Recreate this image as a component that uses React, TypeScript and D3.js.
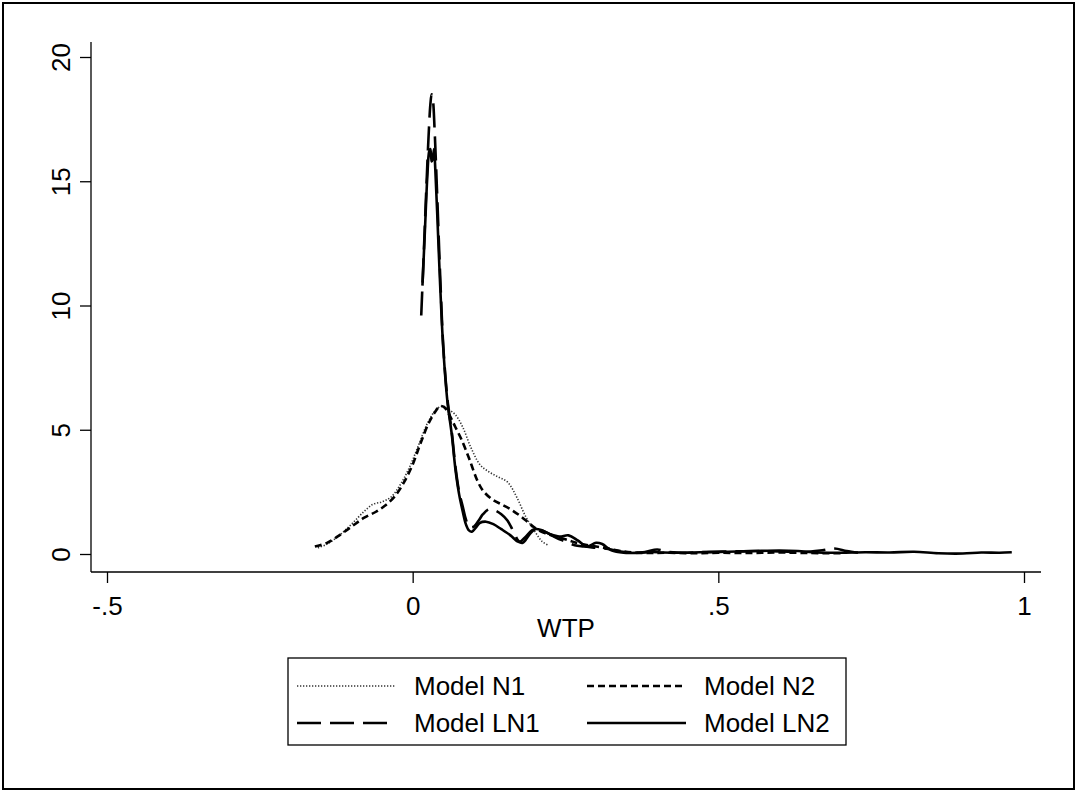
import React, { useEffect, useRef } from "react";
import * as d3 from "d3";

// kernel density of WTP: [wtp, density]
const modelN1: [number, number][] = [
  [-0.155, 0.25], [-0.14, 0.4], [-0.12, 0.75], [-0.1, 1.2], [-0.08, 1.7], [-0.065, 2.0],
  [-0.05, 2.1], [-0.035, 2.3], [-0.02, 2.8], [-0.005, 3.5], [0.01, 4.4], [0.025, 5.3],
  [0.04, 5.85], [0.05, 5.95], [0.06, 5.8], [0.07, 5.6], [0.082, 5.1], [0.095, 4.3],
  [0.11, 3.6], [0.125, 3.3], [0.14, 3.1], [0.155, 2.9], [0.17, 2.3], [0.185, 1.5],
  [0.2, 0.9], [0.212, 0.5], [0.222, 0.35],
];

const modelN2: [number, number][] = [
  [-0.16, 0.3], [-0.14, 0.45], [-0.12, 0.75], [-0.1, 1.1], [-0.08, 1.45], [-0.06, 1.7],
  [-0.045, 1.95], [-0.03, 2.3], [-0.015, 2.85], [0.0, 3.6], [0.012, 4.4], [0.025, 5.2],
  [0.035, 5.65], [0.045, 5.95], [0.052, 5.9], [0.06, 5.6], [0.07, 5.1], [0.08, 4.6],
  [0.093, 3.8], [0.105, 3.0], [0.115, 2.55], [0.13, 2.2], [0.145, 2.0], [0.16, 1.8],
  [0.175, 1.55], [0.19, 1.25], [0.2, 1.05], [0.215, 0.85], [0.235, 0.7], [0.255, 0.55],
  [0.275, 0.4], [0.3, 0.3], [0.32, 0.22], [0.34, 0.12], [0.36, 0.06], [0.39, 0.04],
  [0.42, 0.05], [0.46, 0.03], [0.5, 0.05], [0.55, 0.04], [0.6, 0.06], [0.65, 0.04], [0.7, 0.03],
];

const modelLN1: [number, number][] = [
  [0.014, 9.6], [0.018, 12.0], [0.022, 14.5], [0.026, 16.8], [0.029, 18.1], [0.031, 18.5],
  [0.033, 18.3], [0.036, 17.0], [0.04, 14.5], [0.045, 11.2], [0.05, 8.4], [0.057, 6.2],
  [0.064, 4.9], [0.07, 3.5], [0.076, 2.5], [0.082, 1.9], [0.087, 1.4], [0.092, 1.1],
  [0.1, 1.1], [0.108, 1.35], [0.115, 1.6], [0.125, 1.8], [0.135, 1.75], [0.145, 1.6],
  [0.155, 1.35], [0.165, 0.9], [0.175, 0.5], [0.185, 0.7], [0.195, 0.95], [0.205, 1.0],
  [0.22, 0.85], [0.235, 0.65], [0.25, 0.5], [0.265, 0.35], [0.28, 0.3], [0.3, 0.25],
  [0.32, 0.2], [0.34, 0.1], [0.36, 0.05], [0.38, 0.08], [0.4, 0.18], [0.42, 0.08],
  [0.45, 0.05], [0.48, 0.08], [0.52, 0.1], [0.56, 0.12], [0.6, 0.1], [0.64, 0.08],
  [0.67, 0.15], [0.69, 0.22], [0.71, 0.12], [0.73, 0.05],
];

const modelLN2: [number, number][] = [
  [0.016, 10.8], [0.02, 13.0], [0.024, 15.2], [0.027, 16.2], [0.029, 16.3], [0.031, 15.8],
  [0.033, 15.9], [0.035, 16.3], [0.037, 15.5], [0.04, 13.8], [0.045, 10.8], [0.05, 8.3],
  [0.057, 6.1], [0.064, 4.8], [0.07, 3.4], [0.076, 2.4], [0.082, 1.7], [0.087, 1.2],
  [0.092, 0.95], [0.097, 0.9], [0.103, 1.05], [0.11, 1.25], [0.12, 1.3], [0.132, 1.2],
  [0.145, 1.0], [0.16, 0.75], [0.172, 0.5], [0.18, 0.45], [0.19, 0.75], [0.2, 1.0],
  [0.212, 0.95], [0.225, 0.8], [0.24, 0.7], [0.255, 0.75], [0.27, 0.55], [0.285, 0.3],
  [0.3, 0.45], [0.31, 0.4], [0.325, 0.15], [0.345, 0.05], [0.37, 0.05], [0.39, 0.08],
  [0.41, 0.06], [0.44, 0.05], [0.47, 0.07], [0.5, 0.08], [0.53, 0.1], [0.56, 0.12],
  [0.6, 0.14], [0.63, 0.12], [0.66, 0.06], [0.7, 0.05], [0.74, 0.07], [0.78, 0.06],
  [0.82, 0.09], [0.86, 0.03], [0.9, 0.02], [0.93, 0.06], [0.96, 0.05], [0.98, 0.07],
];

const xTicks = [-0.5, 0, 0.5, 1];
const xTickLabels = ["-.5", "0", ".5", "1"];
const yTicks = [0, 5, 10, 15, 20];

const seriesNames = ["Model N1", "Model N2", "Model LN1", "Model LN2"];
const seriesData = [modelN1, modelN2, modelLN1, modelLN2];
// stata-ish line patterns
const seriesStyle = [
  { dash: "1.3,1.7", width: 1.6, color: "#333" },
  { dash: "7,4", width: 2.6, color: "#000" },
  { dash: "24,9", width: 2.6, color: "#000" },
  { dash: "none", width: 2.6, color: "#000" },
];

const FONT = "Arial, 'Liberation Sans', sans-serif";

const App = () => {
  const svgRef = useRef<SVGSVGElement>(null);

  useEffect(() => {
    const svg = d3.select(svgRef.current);
    svg.selectAll("*").remove();

    const x = d3.scaleLinear().domain([-0.5, 1]).range([107, 1024]);
    const y = d3.scaleLinear().domain([0, 20]).range([554, 57]);
    const plotLeft = 91, plotRight = 1041, plotTop = 42, plotBottom = 572;

    // outer frame
    svg.append("rect")
      .attr("x", 3).attr("y", 3).attr("width", 1071).attr("height", 786)
      .attr("fill", "white").attr("stroke", "black").attr("stroke-width", 2);

    // axes
    const xAxis = d3.axisBottom(x).tickValues(xTicks).tickSize(11)
      .tickFormat((d, i) => xTickLabels[i]);
    const gx = svg.append("g").attr("transform", `translate(0,${plotBottom})`).call(xAxis);
    gx.select(".domain").remove();
    gx.selectAll("line").attr("stroke", "#000").attr("stroke-width", 1.3);
    gx.selectAll("text").attr("font-size", 26).attr("font-family", FONT)
      .attr("fill", "#000").attr("dy", "0.71em").attr("y", 25);

    const yAxis = d3.axisLeft(y).tickValues(yTicks).tickSize(11).tickFormat(d3.format("d"));
    const gy = svg.append("g").attr("transform", `translate(${plotLeft},0)`).call(yAxis);
    gy.select(".domain").remove();
    gy.selectAll("line").attr("stroke", "#000").attr("stroke-width", 1.3);
    gy.selectAll("text")
      .attr("font-size", 26).attr("font-family", FONT).attr("fill", "#000")
      .attr("x", null).attr("dy", null)
      .attr("text-anchor", "middle")
      .attr("transform", "translate(-21,0) rotate(-90)");

    svg.append("line").attr("x1", plotLeft).attr("x2", plotLeft)
      .attr("y1", plotTop).attr("y2", plotBottom).attr("stroke", "#000").attr("stroke-width", 1.3);
    svg.append("line").attr("x1", plotLeft).attr("x2", plotRight)
      .attr("y1", plotBottom).attr("y2", plotBottom).attr("stroke", "#000").attr("stroke-width", 1.3);

    svg.append("text").attr("x", (plotLeft + plotRight) / 2).attr("y", 637)
      .attr("text-anchor", "middle").attr("font-size", 26).attr("font-family", FONT)
      .text("WTP");

    // density curves
    const line = d3.line<[number, number]>()
      .x((d) => x(d[0])).y((d) => y(d[1]))
      .curve(d3.curveCatmullRom.alpha(0.5));

    svg.selectAll(".curve")
      .data(seriesData)
      .join("path")
      .attr("class", "curve")
      .attr("d", (d) => line(d))
      .attr("fill", "none")
      .attr("stroke", (d, i) => seriesStyle[i].color)
      .attr("stroke-width", (d, i) => seriesStyle[i].width)
      .attr("stroke-dasharray", (d, i) => seriesStyle[i].dash)
      .attr("stroke-linejoin", "round");

    // legend
    const lg = svg.append("g");
    lg.append("rect").attr("x", 288).attr("y", 658).attr("width", 558).attr("height", 87)
      .attr("fill", "white").attr("stroke", "#000").attr("stroke-width", 1.3);
    const cols = [297, 587];
    const rows = [686, 723];
    seriesNames.forEach((name, i) => {
      const cx = cols[i % 2];
      const cy = rows[Math.floor(i / 2)];
      const st = seriesStyle[i];
      lg.append("line").attr("x1", cx).attr("x2", cx + 99).attr("y1", cy).attr("y2", cy)
        .attr("stroke", st.color).attr("stroke-width", st.width)
        .attr("stroke-dasharray", st.dash);
      lg.append("text").attr("x", cx + 117).attr("y", cy).attr("dy", "0.36em")
        .attr("font-size", 26).attr("font-family", FONT).text(name);
    });
  }, []);

  return (
    <svg
      ref={svgRef}
      width={1078}
      height={793}
      style={{ position: "absolute", left: 0, top: 0, background: "white" }}
    />
  );
};

export default App;
